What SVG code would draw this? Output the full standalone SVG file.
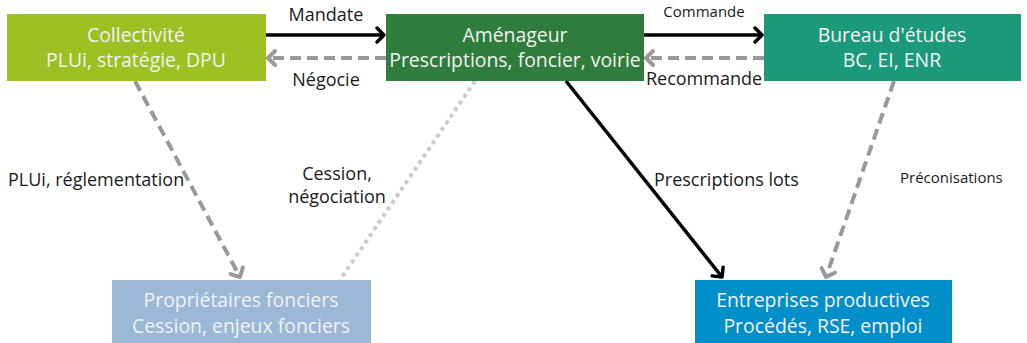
<svg xmlns="http://www.w3.org/2000/svg" width="1027" height="343" viewBox="0 0 1027 343">
<style>
.nt{font-family:"Open Sans","Noto Sans","DejaVu Sans",sans-serif;font-size:19.4px;fill:#f2f2f2;text-anchor:middle}
.lb{font-family:"Open Sans","Noto Sans","DejaVu Sans",sans-serif;font-size:18px;fill:#1a1a1a}
.ls{font-family:"Open Sans","Noto Sans","DejaVu Sans",sans-serif;font-size:15px;fill:#1a1a1a}
.solid{stroke:#000;stroke-width:3.5;fill:none}
.dash{stroke:#999;stroke-width:4;fill:none;stroke-dasharray:11 6}
.dot{stroke:#ccc;stroke-width:4;fill:none;stroke-dasharray:4 4}
</style>
<defs>
<marker id="ab" markerUnits="userSpaceOnUse" markerWidth="20" markerHeight="20" refX="10" refY="8" orient="auto" viewBox="0 0 20 16">
<path d="M3,1 L10,8 L3,15" fill="none" stroke="#000" stroke-width="3.5" stroke-linecap="round" stroke-linejoin="round"/>
</marker>
<marker id="ag" markerUnits="userSpaceOnUse" markerWidth="20" markerHeight="20" refX="10" refY="8" orient="auto" viewBox="0 0 20 16">
<path d="M3,1 L10,8 L3,15" fill="none" stroke="#999" stroke-width="4" stroke-linecap="round" stroke-linejoin="round"/>
</marker>
</defs>
<g id="connectors">
<line class="solid" x1="266" y1="35" x2="384" y2="35" marker-end="url(#ab)"/>
<line class="dash" x1="386" y1="58" x2="268" y2="58" marker-end="url(#ag)"/>
<line class="solid" x1="644" y1="35" x2="762" y2="35" marker-end="url(#ab)"/>
<line class="dash" x1="764" y1="58" x2="646" y2="58" marker-end="url(#ag)"/>
<line class="dash" x1="135" y1="81" x2="240" y2="277" marker-end="url(#ag)"/>
<line class="dot" x1="475" y1="81" x2="340" y2="280"/>
<line class="solid" x1="566" y1="81" x2="722" y2="277" marker-end="url(#ab)"/>
<line class="dash" x1="894" y1="81" x2="826" y2="277" marker-end="url(#ag)"/>
<text class="lb" x="326" y="21" text-anchor="middle">Mandate</text>
<text class="lb" x="326" y="86" text-anchor="middle">Négocie</text>
<text class="ls" x="704" y="17" text-anchor="middle">Commande</text>
<text class="lb" x="704" y="85" text-anchor="middle">Recommande</text>
<text class="lb" x="8" y="186">PLUi, réglementation</text>
<text class="lb" x="337" y="180" text-anchor="middle">Cession,</text>
<text class="lb" x="337" y="203" text-anchor="middle">négociation</text>
<text class="lb" x="654" y="186">Prescriptions lots</text>
<text class="ls" x="900" y="183">Préconisations</text>
</g>
<g id="collectivite">
<rect x="7" y="14" width="259" height="67" fill="#9dc123"/>
<text class="nt" x="136" y="42">Collectivité</text>
<text class="nt" x="136" y="67">PLUi, stratégie, DPU</text>
</g>
<g id="amenageur">
<rect x="386" y="14" width="258" height="67" fill="#2e7d3c"/>
<text class="nt" x="515" y="42">Aménageur</text>
<text class="nt" x="515" y="67">Prescriptions, foncier, voirie</text>
</g>
<g id="bureau">
<rect x="764" y="14" width="257" height="67" fill="#1a997b"/>
<text class="nt" x="892" y="42">Bureau d'études</text>
<text class="nt" x="892" y="67">BC, EI, ENR</text>
</g>
<g id="proprietaires">
<rect x="112" y="280" width="259" height="63" fill="#9bb9d6"/>
<text class="nt" x="241" y="307">Propriétaires fonciers</text>
<text class="nt" x="241" y="333">Cession, enjeux fonciers</text>
</g>
<g id="entreprises">
<rect x="695" y="280" width="257" height="63" fill="#008fc9"/>
<text class="nt" x="823" y="307">Entreprises productives</text>
<text class="nt" x="823" y="333">Procédés, RSE, emploi</text>
</g>
</svg>
